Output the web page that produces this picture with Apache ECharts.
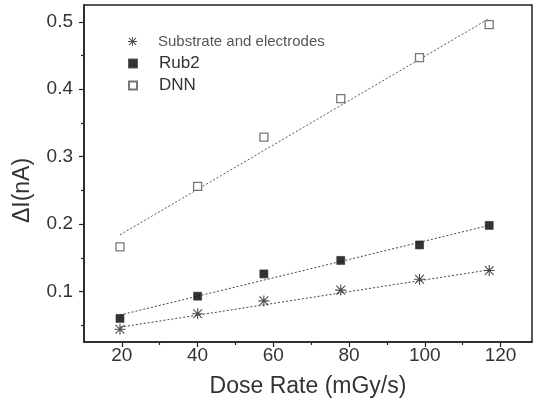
<!DOCTYPE html>
<html>
<head>
<meta charset="utf-8">
<script src="https://cdn.jsdelivr.net/npm/echarts@6/dist/echarts.min.js"></script>
<style>html,body{margin:0;padding:0;background:#fff}#c{width:538px;height:403px}</style>
</head>
<body>
<div id="c"></div>
<script>
// Data
var doseRate = [19.5, 40, 57.5, 77.8, 98.6, 117];
var substrate = [0.044, 0.067, 0.086, 0.102, 0.118, 0.131];
var rub2 = [0.060, 0.093, 0.126, 0.146, 0.169, 0.198];
var dnn = [0.166, 0.256, 0.329, 0.386, 0.447, 0.496];
// Linear fit line endpoints
var fitX = [19.5, 117];
var substrateFit = [0.047, 0.132];
var rub2Fit = [0.065, 0.198];
var dnnFit = [0.184, 0.505];
// Tick labels
var xTicks = [20, 40, 60, 80, 100, 120];
var xMinorTicks = [30, 50, 70, 90, 110];
var yTicks = [0.1, 0.2, 0.3, 0.4, 0.5];
var yMinorTicks = [0.05, 0.15, 0.25, 0.35, 0.45];
var names = ['Substrate and electrodes', 'Rub2', 'DNN'];

function pairs(xs, ys) { return xs.map(function (x, i) { return [x, ys[i]]; }); }

var starPath = 'path://M9 0L11 0L11 20L9 20Z M0 9L20 9L20 11L0 11Z M2.7 1.3L18.7 17.3L17.3 18.7L1.3 2.7Z M18.7 2.7L2.7 18.7L1.3 17.3L17.3 1.3Z';
var squarePath = 'path://M0 0L10 0L10 10L0 10Z';

var font = 'Liberation Sans, Arial, sans-serif';
var axisColor = '#222';
var textColor = '#333';
var X_MIN = 10, X_MAX = 128.3, Y_MIN = 0.025, Y_MAX = 0.525;

var chart = echarts.init(document.getElementById('c'));
chart.setOption({
  animation: false,
  backgroundColor: '#fff',
  grid: { left: 84, top: 5, right: 6, bottom: 61, show: true, borderColor: axisColor, borderWidth: 1.5, backgroundColor: 'transparent' },
  legend: [
    { data: [names[0]], left: 123, top: 29, itemWidth: 9, itemHeight: 9, textStyle: { fontFamily: font, fontSize: 15, color: '#555', padding: [0, 0, 0, 16] } },
    { data: [names[1]], left: 123, top: 50, itemWidth: 8, itemHeight: 8, textStyle: { fontFamily: font, fontSize: 17, color: textColor, padding: [0, 0, 0, 17] } },
    { data: [names[2]], left: 123, top: 72, itemWidth: 8, itemHeight: 8, textStyle: { fontFamily: font, fontSize: 17, color: textColor, padding: [0, 0, 0, 17] } }
  ],
  xAxis: [
    {
      type: 'value', min: X_MIN, max: X_MAX, position: 'bottom',
      name: 'Dose Rate (mGy/s)', nameLocation: 'middle', nameGap: 33,
      nameTextStyle: { fontFamily: font, fontSize: 23, color: textColor },
      axisLine: { show: true, onZero: false, lineStyle: { color: axisColor, width: 1.5 } },
      axisTick: { show: true, inside: false, length: 5, customValues: xTicks, lineStyle: { color: axisColor, width: 1.2 } },
      axisLabel: { customValues: xTicks, margin: 4, fontFamily: font, fontSize: 19, color: textColor },
      splitLine: { show: false }
    },
    {
      type: 'value', min: X_MIN, max: X_MAX, position: 'bottom', offset: 0,
      axisLine: { show: false, onZero: false },
      axisTick: { show: true, inside: false, length: 3, customValues: xMinorTicks, lineStyle: { color: axisColor, width: 1.2 } },
      axisLabel: { show: false },
      splitLine: { show: false }
    }
  ],
  yAxis: [
    {
      type: 'value', min: Y_MIN, max: Y_MAX, position: 'left',
      name: '\u0394I(nA)', nameLocation: 'middle', nameGap: 50,
      nameTextStyle: { fontFamily: font, fontSize: 23, color: textColor, padding: [0, 34, 0, 0] },
      axisLine: { show: true, onZero: false, lineStyle: { color: axisColor, width: 1.5 } },
      axisTick: { show: true, inside: false, length: 5, customValues: yTicks, lineStyle: { color: axisColor, width: 1.2 } },
      axisLabel: { customValues: yTicks, margin: 11, fontFamily: font, fontSize: 19, color: textColor, formatter: function (v) { return v.toFixed(1); } },
      splitLine: { show: false }
    },
    {
      type: 'value', min: Y_MIN, max: Y_MAX, position: 'left', offset: 0,
      axisLine: { show: false, onZero: false },
      axisTick: { show: true, inside: false, length: 3, customValues: yMinorTicks, lineStyle: { color: axisColor, width: 1.2 } },
      axisLabel: { show: false },
      splitLine: { show: false }
    }
  ],
  series: [
    { name: 'fit1', type: 'line', data: pairs(fitX, substrateFit), symbol: 'none', silent: true, z: 1, lineStyle: { color: '#444', width: 1, type: [2, 2] } },
    { name: 'fit2', type: 'line', data: pairs(fitX, rub2Fit), symbol: 'none', silent: true, z: 1, lineStyle: { color: '#444', width: 1, type: [2, 2] } },
    { name: 'fit3', type: 'line', data: pairs(fitX, dnnFit), symbol: 'none', silent: true, z: 1, lineStyle: { color: '#555', width: 1, type: [2, 2] } },
    { name: names[0], type: 'scatter', data: pairs(doseRate, substrate), symbol: starPath, symbolSize: 11, z: 3, itemStyle: { color: '#222' } },
    { name: names[1], type: 'scatter', data: pairs(doseRate, rub2), symbol: squarePath, symbolSize: 8, z: 3, itemStyle: { color: '#000', borderColor: '#333', borderWidth: 0.8 } },
    { name: names[2], type: 'scatter', data: pairs(doseRate, dnn), symbol: squarePath, symbolSize: 8, z: 3, itemStyle: { color: '#fff', borderColor: '#555', borderWidth: 1.3 } }
  ]
});
</script>
</body>
</html>
